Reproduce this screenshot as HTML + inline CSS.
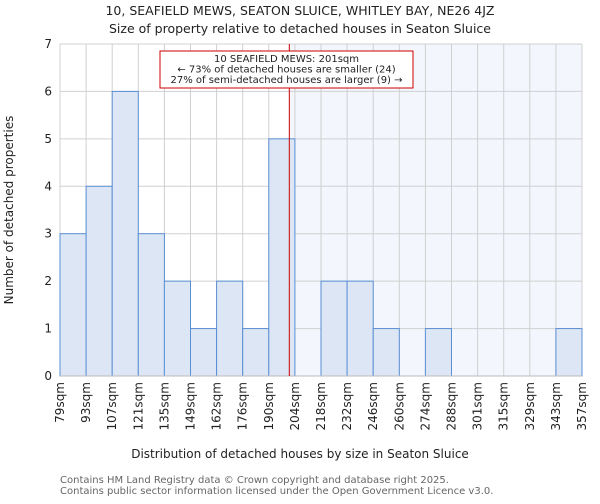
<!DOCTYPE html>
<html><head><meta charset="utf-8"><style>
body{margin:0;background:#fff;font-family:"DejaVu Sans","Liberation Sans",sans-serif}
svg text{font-family:"DejaVu Sans","Liberation Sans",sans-serif}
</style></head><body>
<svg id="c" width="600" height="500" xmlns="http://www.w3.org/2000/svg">
<text x="300" y="15" text-anchor="middle" font-size="12.5" fill="#222">10, SEAFIELD MEWS, SEATON SLUICE, WHITLEY BAY, NE26 4JZ</text>
<text x="300" y="33" text-anchor="middle" font-size="12.5" fill="#222">Size of property relative to detached houses in Seaton Sluice</text>
<g id="plot"></g>
<text x="300" y="458" text-anchor="middle" font-size="12" fill="#222">Distribution of detached houses by size in Seaton Sluice</text>
<text transform="translate(13,210) rotate(-90)" text-anchor="middle" font-size="12" fill="#222">Number of detached properties</text>
<text x="60" y="483" font-size="10" fill="#666">Contains HM Land Registry data © Crown copyright and database right 2025.</text>
<text x="60" y="494" font-size="10" fill="#666">Contains public sector information licensed under the Open Government Licence v3.0.</text>
</svg>
<script>
const tickLabels=["79sqm","93sqm","107sqm","121sqm","135sqm","149sqm","162sqm","176sqm","190sqm","204sqm","218sqm","232sqm","246sqm","260sqm","274sqm","288sqm","301sqm","315sqm","329sqm","343sqm","357sqm"];
const tickValues=[79,93,107,121,135,149,162,176,190,204,218,232,246,260,274,288,301,315,329,343,357];
const counts=[3,4,6,3,2,1,2,1,5,0,2,2,1,0,1,0,0,0,0,1];
const yTicks=[0,1,2,3,4,5,6,7];
const subjectSize=201;
const annotationLines=["10 SEAFIELD MEWS: 201sqm","← 73% of detached houses are smaller (24)","27% of semi-detached houses are larger (9) →"];
const X0=60,X1=582,Y0=376,Y1=44,NS="http://www.w3.org/2000/svg";
const nb=counts.length,bw=(X1-X0)/nb;
const xIdx=i=>X0+i*bw;
function xVal(v){for(let i=0;i<tickValues.length-1;i++){if(v<=tickValues[i+1])return xIdx(i+(v-tickValues[i])/(tickValues[i+1]-tickValues[i]));}return X1;}
const y=v=>Y0-(v/yTicks[yTicks.length-1])*(Y0-Y1);
const g=document.getElementById('plot');
function mk(t,a){const e=document.createElementNS(NS,t);for(const k in a)e.setAttribute(k,a[k]);g.appendChild(e);return e;}
const sx=xVal(subjectSize);
let e=mk('rect',{x:sx,y:Y1,width:X1-sx,height:Y0-Y1,fill:'#f3f6fd'});


for(const t of yTicks){e=mk('line',{x1:X0,x2:X1,y1:y(t),y2:y(t),stroke:'#d0d0d0','stroke-width':1});


e=mk('text',{x:X0-8,y:y(t)+4,'text-anchor':'end','font-size':12,fill:'#222'});e.textContent=t;

}
for(let i=0;i<tickLabels.length;i++){e=mk('line',{x1:xIdx(i),x2:xIdx(i),y1:Y1,y2:Y0,stroke:'#d0d0d0','stroke-width':1});


const tx=xIdx(i)+4;e=mk('text',{x:tx,y:382,'text-anchor':'end','font-size':12,fill:'#222',transform:`rotate(-90 ${tx} 382)`});e.textContent=tickLabels[i];

}
counts.forEach((c,i)=>{if(!c)return;e=mk('rect',{x:xIdx(i),y:y(c),width:bw,height:Y0-y(c),fill:'#dce6f4',stroke:'#5a8fd4','stroke-width':1});

});
e=mk('line',{x1:X0,x2:X1,y1:Y0,y2:Y0,stroke:'#bbb'});


e=mk('line',{x1:sx,x2:sx,y1:Y1,y2:Y0,stroke:'#cc0000','stroke-width':1});


e=mk('rect',{x:160,y:51,width:253,height:37,fill:'#fff',stroke:'#cc0000','stroke-width':1});


annotationLines.forEach((s,i)=>{e=mk('text',{x:286.5,y:62+i*10.5,'text-anchor':'middle','font-size':10,fill:'#222'});e.textContent=s;

});
</script>
</body></html>
